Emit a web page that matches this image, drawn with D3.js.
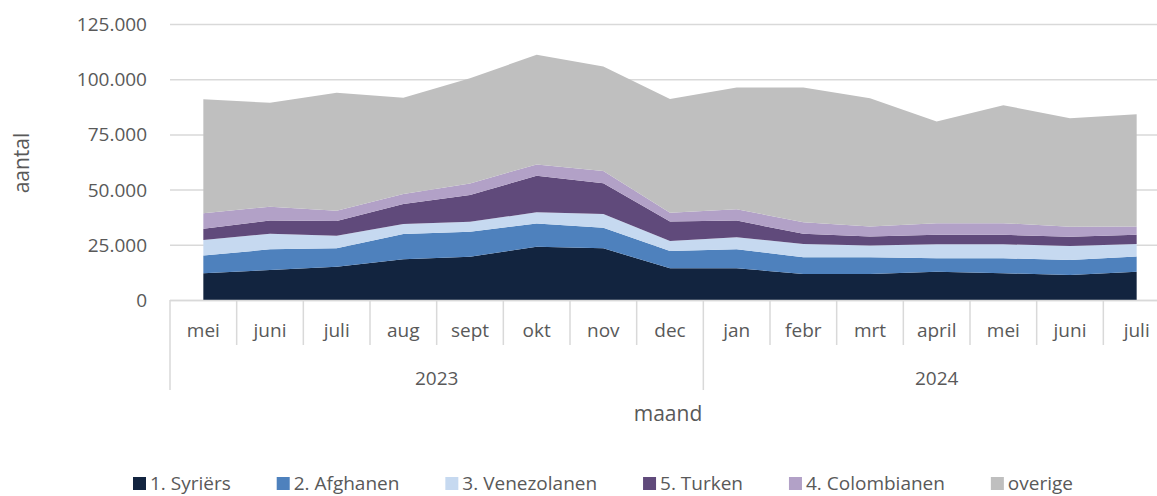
<html>
<head>
  <meta charset="utf-8">
  <script src="https://cdn.jsdelivr.net/npm/d3@7"></script>
  <style>
    body { margin: 0; background: #fff; }
    text { font-family: 'Open Sans', 'Liberation Sans', sans-serif; fill: #595959; }
  </style>
</head>
<body>
<script>
// months shown on the category axis
var months = ['mei','juni','juli','aug','sept','okt','nov','dec','jan','febr','mrt','april','mei','juni','juli'];
var years = ['2023','2024'];
var yearOfMonth = [0,0,0,0,0,0,0,0,1,1,1,1,1,1,1];

// series, bottom to top
var syriers     = [12100,13600,15100,18400,19600,24150,23400,14350,14350,11800,11800,12850,12100,11300,12850];
var afghanen    = [ 8000, 9350, 8300,11500,11300,10550, 9350, 7850, 8600, 7550, 7550, 6050, 6800, 6800, 6800];
var venezolanen = [ 7100, 7100, 5750, 4500, 4550, 5000, 6200, 4550, 5450, 6050, 5300, 6350, 6350, 6350, 5750];
var turken      = [ 5100, 5900, 6650, 9050,12050,16600,13900, 8750, 7550, 4550, 4100, 4250, 4250, 4200, 4100];
var colombianen = [ 7000, 6300, 4650, 4550, 5300, 5100, 5600, 4050, 5150, 5300, 4500, 5300, 5300, 4550, 3750];
var overige     = [51600,47100,53450,43600,47600,49700,47300,51500,55100,61000,58100,46050,53400,49100,50900];

var seriesNames = ['1. Syriërs','2. Afghanen','3. Venezolanen','5. Turken','4. Colombianen','overige'];
var seriesData = [syriers, afghanen, venezolanen, turken, colombianen, overige];
var colors = ['#12243f','#4e81bd','#c6d9f0','#604a7b','#b2a1c7','#bfbfbf'];
var yTicks = [0,25000,50000,75000,100000,125000];

var width = 1157, height = 496;
var plotLeft = 170, plotRight = 1170, plotTop = 24, plotBottom = 300;

var svg = d3.select('body').append('svg')
  .attr('width', width)
  .attr('height', height);

var rows = months.map(function(m, i){
  var r = {i: i};
  seriesNames.forEach(function(k, j){ r[k] = seriesData[j][i]; });
  return r;
});

var x = d3.scaleBand().domain(d3.range(months.length)).range([plotLeft, plotRight]);
var y = d3.scaleLinear().domain([0,125000]).range([plotBottom, plotTop]);
var nl = d3.formatLocale({decimal: ',', thousands: '.', grouping: [3], currency: ['€','']});
var fmt = nl.format(',');

// gridlines
svg.append('g').selectAll('line')
  .data(yTicks)
  .enter().append('line')
  .attr('x1', plotLeft).attr('x2', width)
  .attr('y1', function(d){ return y(d) + 0.5; })
  .attr('y2', function(d){ return y(d) + 0.5; })
  .attr('stroke', '#d9d9d9')
  .attr('stroke-width', 1.5);

svg.append('g').selectAll('text')
  .data(yTicks)
  .enter().append('text')
  .attr('x', 147)
  .attr('y', function(d){ return y(d) + 7; })
  .attr('text-anchor', 'end')
  .style('font-size', '19px')
  .text(function(d){ return fmt(d); });

// stacked areas
var stack = d3.stack().keys(seriesNames);
var layers = stack(rows);
var area = d3.area()
  .x(function(d){ return x(d.data.i) + x.bandwidth()/2; })
  .y0(function(d){ return y(d[0]); })
  .y1(function(d){ return y(d[1]); });

svg.append('g').selectAll('path')
  .data(layers)
  .enter().append('path')
  .attr('fill', function(d, i){ return colors[i]; })
  .attr('d', area);

// category axis
var ax = svg.append('g');
ax.append('line')
  .attr('x1', plotLeft).attr('x2', width)
  .attr('y1', plotBottom + 0.5).attr('y2', plotBottom + 0.5)
  .attr('stroke', '#d9d9d9').attr('stroke-width', 1.5);

ax.selectAll('line.div')
  .data(d3.range(months.length + 1))
  .enter().append('line')
  .attr('class', 'div')
  .attr('x1', function(i){ return plotLeft + i * x.bandwidth(); })
  .attr('x2', function(i){ return plotLeft + i * x.bandwidth(); })
  .attr('y1', plotBottom)
  .attr('y2', function(i){ return (i === 0 || i === 8 || i === months.length) ? 390 : 345; })
  .attr('stroke', '#d9d9d9').attr('stroke-width', 1.5);

ax.selectAll('text.m')
  .data(months)
  .enter().append('text')
  .attr('class', 'm')
  .attr('x', function(d, i){ return x(i) + x.bandwidth()/2; })
  .attr('y', 337)
  .attr('text-anchor', 'middle')
  .style('font-size', '19px')
  .text(function(d){ return d; });

ax.selectAll('text.yr')
  .data(years)
  .enter().append('text')
  .attr('class', 'yr')
  .attr('x', function(d, k){
    var idx = d3.range(months.length).filter(function(i){ return yearOfMonth[i] === k; });
    return (x(idx[0]) + x(idx[idx.length-1]) + x.bandwidth()) / 2;
  })
  .attr('y', 385)
  .attr('text-anchor', 'middle')
  .style('font-size', '19px')
  .text(function(d){ return d; });

svg.append('text')
  .attr('x', 668).attr('y', 421)
  .attr('text-anchor', 'middle')
  .style('font-size', '21px')
  .text('maand');

svg.append('text')
  .attr('transform', 'translate(29,163) rotate(-90)')
  .attr('text-anchor', 'middle')
  .style('font-size', '21px')
  .text('aantal');

// legend
var leg = svg.append('g');
var items = leg.selectAll('g')
  .data(seriesNames)
  .enter().append('g');
items.append('rect')
  .attr('width', 13).attr('height', 13)
  .attr('y', -13)
  .attr('fill', function(d, i){ return colors[i]; });
items.append('text')
  .attr('x', 17)
  .attr('y', 0)
  .style('font-size', '19px')
  .text(function(d){ return d; });

var widths = [];
items.each(function(){ widths.push(this.getBBox().width); });
var startX = 133, endX = 1073;
var gap = (endX - startX - d3.sum(widths)) / (widths.length - 1);
var pos = 0;
items.attr('transform', function(d, i){
  var t = 'translate(' + (startX + pos) + ',490)';
  pos += widths[i] + gap;
  return t;
});
</script>
</body>
</html>
